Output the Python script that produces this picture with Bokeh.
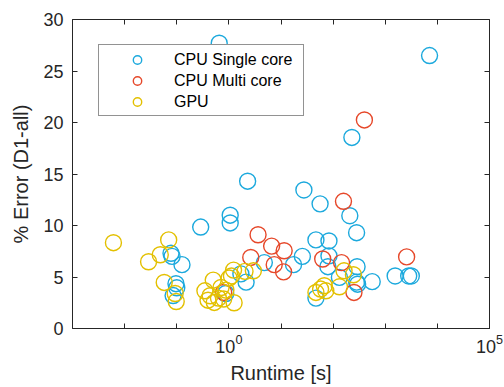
from bokeh.plotting import figure
from bokeh.models import Range1d, FixedTicker, LinearAxis, LogAxis, Legend, LegendItem
from bokeh.embed import file_html
from bokeh.resources import INLINE

# ---- data (runtime in seconds, % error) ----
single_runtime = [0.653, 7080, 229, 2.29, 27.5, 56.2, 209, 1.06, 1.06, 0.288, 282, 46.8, 83.2,
                  0.0776, 0.0813, 0.126, 25.7, 17.4, 4.79, 83.2, 79.4, 132, 288, 282, 295, 562,
                  1549, 2818, 3162, 2.14, 1.70, 0.0966, 0.100, 0.0851, 46.8, 0.871]
single_error = [27.7, 26.5, 18.55, 14.3, 13.45, 12.1, 10.95, 11.0, 10.25, 9.85, 9.3, 8.6, 8.5,
                7.3, 7.0, 6.2, 7.0, 6.2, 6.4, 7.05, 6.0, 4.96, 6.0, 4.5, 4.3, 4.55,
                5.1, 5.1, 5.1, 4.5, 5.3, 4.35, 3.95, 3.2, 2.95, 3.4]

multi_runtime = [398, 158, 3.63, 6.61, 11.5, 2.63, 7.41, 11.2, 63.1, 145, 251, 2570, 0.794]
multi_error = [20.25, 12.35, 9.1, 8.0, 7.55, 6.9, 6.2, 5.5, 6.75, 6.4, 3.5, 6.95, 3.5]

gpu_runtime = [0.0061, 0.070, 0.0483, 0.0288, 0.0575, 0.0933, 0.0977, 1.23, 2.04, 2.95, 1.01,
               1.12, 0.501, 0.347, 0.437, 0.631, 0.877, 0.794, 1.26, 0.525, 0.708, 0.398,
               162, 245, 132, 67.6, 46.8, 57.5, 72.4]
gpu_error = [8.33, 8.6, 7.16, 6.48, 4.47, 3.4, 2.62, 5.67, 5.55, 5.6, 4.9,
             5.1, 4.7, 3.66, 3.18, 2.95, 3.73, 2.86, 2.5, 2.53, 3.98, 2.75,
             5.6, 5.22, 4.05, 4.15, 3.5, 3.83, 3.66]

series_labels = ["CPU Single core", "CPU Multi core", "GPU"]
x_label = "Runtime [s]"
y_label = "% Error (D1-all)"
x_major_ticks = [1, 1e5]
x_decade_ticks = [1e-3, 1e-2, 1e-1, 1, 1e1, 1e2, 1e3, 1e4, 1e5]
y_ticks = [0, 5, 10, 15, 20, 25, 30]

BLUE = "#1CA9DD"
RED = "#E6482A"
YELLOW = "#E3C000"
TXT = "#262626"
FONT = "Liberation Sans"

p = figure(width=504, height=387, x_axis_type="log",
           x_range=Range1d(1e-3, 1e5), y_range=Range1d(0, 30),
           output_backend="svg", toolbar_location=None,
           min_border_left=72, min_border_right=15, min_border_top=19, min_border_bottom=59)
p.grid.visible = False
p.outline_line_color = None
p.background_fill_color = "white"
p.border_fill_color = "white"

r1 = p.scatter(single_runtime, single_error, marker="circle", size=16,
               fill_color=None, line_color=BLUE, line_width=1.4)
r2 = p.scatter(multi_runtime, multi_error, marker="circle", size=16,
               fill_color=None, line_color=RED, line_width=1.4)
r3 = p.scatter(gpu_runtime, gpu_error, marker="circle", size=16,
               fill_color=None, line_color=YELLOW, line_width=1.4)

def style_axis(ax):
    ax.axis_line_color = TXT
    ax.axis_line_width = 1
    ax.major_tick_in = 5
    ax.major_tick_out = 0
    ax.minor_tick_in = 5
    ax.minor_tick_out = 0
    ax.major_tick_line_color = TXT
    ax.minor_tick_line_color = TXT
    ax.major_label_text_font = FONT
    ax.major_label_text_font_size = "18px"
    ax.major_label_text_color = TXT
    ax.axis_label_text_font = FONT
    ax.axis_label_text_font_size = "20px"
    ax.axis_label_text_font_style = "normal"
    ax.axis_label_text_color = TXT

xa = p.xaxis[0]
xa.ticker = FixedTicker(ticks=x_major_ticks, minor_ticks=x_decade_ticks)
style_axis(xa)
xa.axis_label = x_label
xa.major_label_standoff = 5
xa.axis_label_standoff = 6

ya = p.yaxis[0]
ya.ticker = FixedTicker(ticks=y_ticks)
style_axis(ya)
ya.axis_label = y_label
ya.major_label_standoff = 9
ya.axis_label_standoff = 8

top = LogAxis(ticker=FixedTicker(ticks=[], minor_ticks=x_decade_ticks))
style_axis(top)
p.add_layout(top, "above")

right = LinearAxis(ticker=FixedTicker(ticks=[], minor_ticks=y_ticks))
style_axis(right)
p.add_layout(right, "right")

items = [LegendItem(label=series_labels[0], renderers=[r1]),
         LegendItem(label=series_labels[1], renderers=[r2]),
         LegendItem(label=series_labels[2], renderers=[r3])]
legend = Legend(items=items, location=(26, 212), label_width=123, margin=0,
                glyph_width=56, glyph_height=21, spacing=0,
                padding=dict(left=10, right=6, top=4, bottom=3),
                label_standoff=9, label_height=21,
                border_line_color=TXT, border_line_width=1,
                background_fill_color="white", background_fill_alpha=1.0,
                label_text_font=FONT, label_text_font_size="16px", label_text_color="black")
p.add_layout(legend)

open("out.html", "w").write(file_html(p, INLINE))
